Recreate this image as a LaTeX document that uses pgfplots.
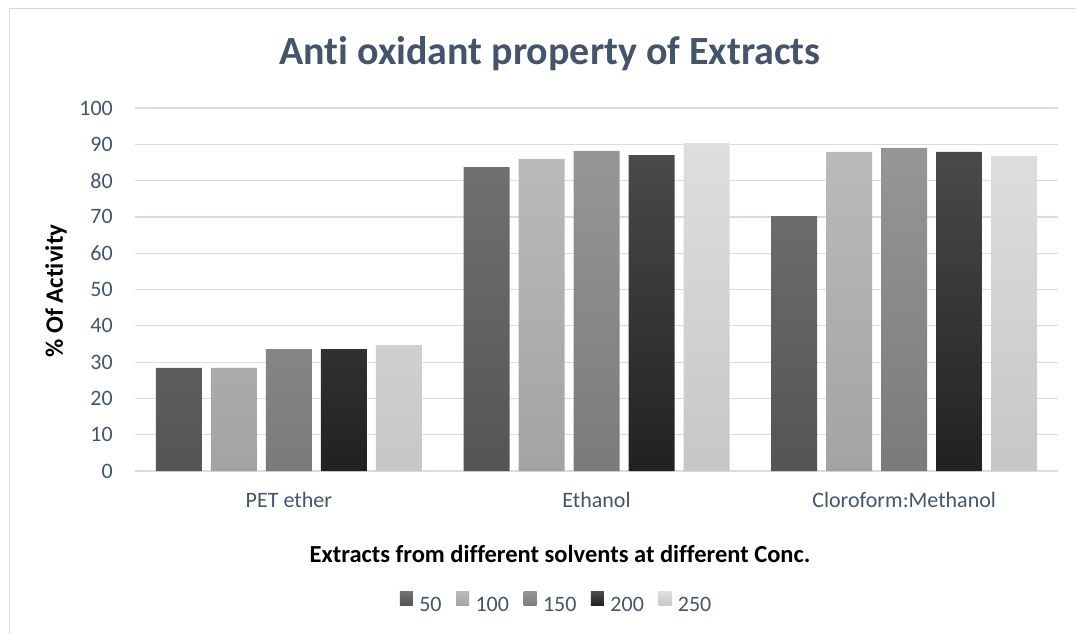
\documentclass[border=0pt]{standalone}
\usepackage{pgfplots}
\pgfplotsset{compat=1.18}
\usepackage{fontspec}
\setmainfont[Ligatures=NoCommon]{Carlito}
\definecolor{txt}{HTML}{44546A}
\definecolor{gridc}{HTML}{D9DCE1}
\definecolor{framec}{HTML}{D9D9D9}
\begin{document}
\begin{tikzpicture}[x=1pt,y=1pt]
\useasboundingbox (0,0) rectangle (1076,633);
\draw[framec, line width=1.2pt] (9.5,-5) -- (9.5,624.5) -- (1090,624.5);
\node[anchor=base, text=txt, font=\fontsize{40}{46}\selectfont\bfseries] at (550,568) {Anti oxidant property of Extracts};
\node[anchor=base, font=\fontsize{24.5}{29}\selectfont\bfseries] at (560,71) {Extracts from different solvents at different Conc.};
\node[rotate=90, font=\fontsize{25}{30}\selectfont\bfseries] at (56,342) {\% Of Activity};
\begin{axis}[
  at={(135pt,162pt)}, anchor=south west,
  scale only axis, width=923pt, height=363pt,
  ybar=9pt, bar width=46pt,
  xmin=-0.5, xmax=2.5, ymin=0, ymax=100,
  xtick={0,1,2}, xticklabels={PET ether, Ethanol, Cloroform:Methanol},
  ytick={0,10,...,100},
  major tick length=0pt,
  ymajorgrids, grid style={gridc, line width=1.2pt},
  axis x line*=bottom, axis y line*=left,
  x axis line style={gridc, line width=1.2pt},
  y axis line style={draw=none},
  /pgf/number format/assume math mode=true,
  tick label style={font=\fontsize{22}{26}\selectfont, text=txt},
  yticklabel style={anchor=east, inner sep=0pt, xshift=-22pt},
  xticklabel style={anchor=base, inner sep=0pt, yshift=-36pt},
  legend columns=5,
  legend image code/.code={\path[#1, draw=none] (0pt,0pt) rectangle (13pt,13.5pt);},
  legend style={at={(0.457,-0.366)}, anchor=center, draw=none, fill=none,
    font=\fontsize{22}{26}\selectfont, text=txt,
    nodes={inner sep=2.5pt},
    /tikz/every odd column/.append style={column sep=4pt},
    /tikz/every even column/.append style={column sep=12pt}},
]
\addplot[draw=none, top color=black!56, bottom color=black!67] coordinates {(0,28.4) (1,83.7) (2,70.2)};
\addplot[draw=none, top color=black!27, bottom color=black!36] coordinates {(0,28.4) (1,86.0) (2,87.9)};
\addplot[draw=none, top color=black!41, bottom color=black!52] coordinates {(0,33.6) (1,88.2) (2,89.0)};
\addplot[draw=none, top color=black!71, bottom color=black!87] coordinates {(0,33.6) (1,87.0) (2,87.9)};
\addplot[draw=none, top color=black!13, bottom color=black!22] coordinates {(0,34.7) (1,90.3) (2,86.8)};
\legend{50,100,150,200,250}
\end{axis}
\end{tikzpicture}
\end{document}
